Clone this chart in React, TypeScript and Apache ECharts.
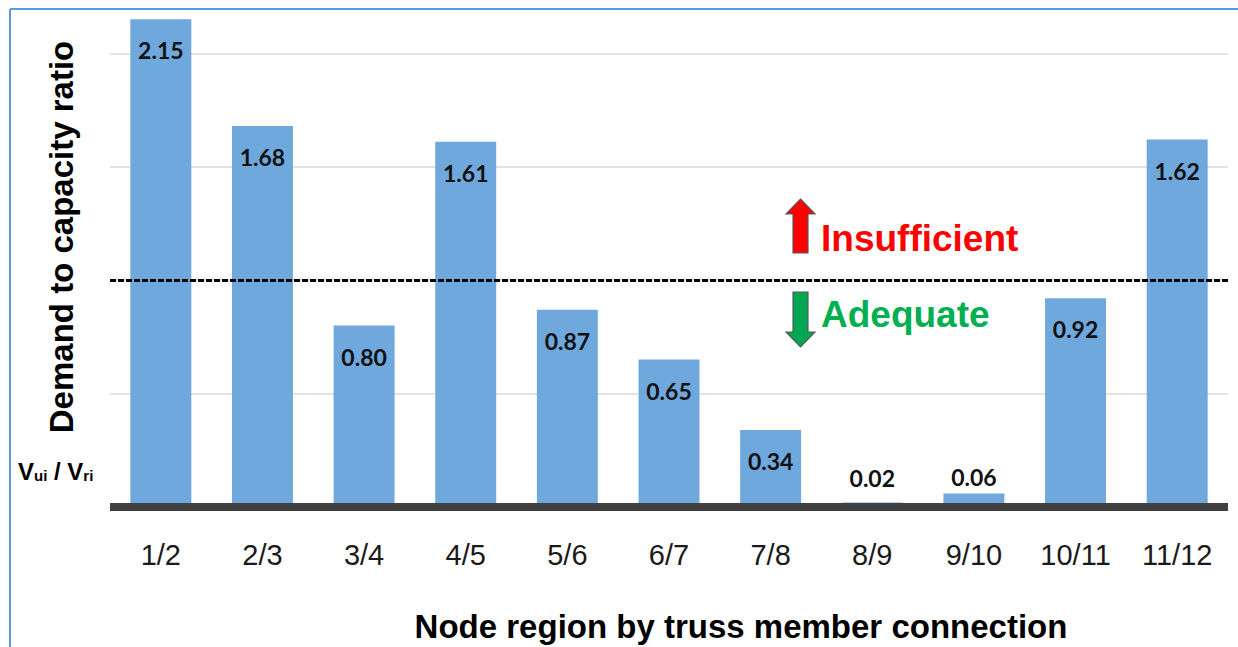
import React, { useEffect, useRef } from "react";
import * as echarts from "echarts";

const categories = ["1/2", "2/3", "3/4", "4/5", "5/6", "6/7", "7/8", "8/9", "9/10", "10/11", "11/12"];
const ratios = [2.15, 1.68, 0.8, 1.61, 0.87, 0.65, 0.34, 0.02, 0.06, 0.92, 1.62];
const thresholdValue = [1];
const yTitle = "Demand to capacity ratio";
const xTitle = "Node region by truss member connection";

export default function App() {
  const ref = useRef<HTMLDivElement>(null);

  useEffect(() => {
    if (!ref.current) return;
    const chart = echarts.init(ref.current, null, { renderer: "svg" });

    const barData = ratios.map((v) => {
      if (v < 0.2) {
        return {
          value: v,
          label: { position: "top", distance: Math.max(4, 16 - v * 190) },
        };
      }
      return v;
    });

    const shadow = {
      shadowColor: "rgba(0,0,0,0.35)",
      shadowBlur: 3,
      shadowOffsetX: 2,
      shadowOffsetY: 2,
    };

    const option: any = {
      animation: false,
      backgroundColor: "#ffffff",
      grid: { left: 110, right: 10, top: 8, bottom: 140, containLabel: false },
      xAxis: {
        type: "category",
        data: categories,
        z: 10,
        axisLine: { show: true, lineStyle: { color: "#404040", width: 8, cap: "butt" } },
        axisTick: { show: false },
        axisLabel: {
          margin: 33,
          fontSize: 29,
          fontFamily: "Liberation Sans",
          color: "#1a1a1a",
        },
      },
      yAxis: {
        type: "value",
        min: 0,
        max: 2.2,
        interval: 0.5,
        axisLine: { show: false },
        axisTick: { show: false },
        axisLabel: { show: false },
        splitLine: {
          show: true,
          showMaxLine: false,
          lineStyle: { color: "#d9d9d9", width: 1.5 },
        },
      },
      series: [
        {
          type: "bar",
          data: barData,
          barWidth: "60%",
          itemStyle: { color: "#6FA8DC" },
          label: {
            show: true,
            position: "insideTop",
            distance: 19,
            formatter: (p: any) => Number(p.value).toFixed(2),
            fontFamily: "Lato",
            fontWeight: "bold",
            fontSize: 23,
            lineHeight: 24,
            color: "#111111",
          },
          markLine: {
            silent: true,
            symbol: ["none", "none"],
            label: { show: false },
            lineStyle: { color: "#000000", type: [6, 2], width: 3 },
            data: thresholdValue.map((v) => ({ yAxis: v })),
          },
        },
      ],
      graphic: [
        {
          type: "line",
          shape: { x1: 10, y1: 9, x2: 10, y2: 647 },
          style: { stroke: "#5B9BD5", lineWidth: 2 },
          z: 20,
        },
        {
          type: "line",
          shape: { x1: 10, y1: 9, x2: 1238, y2: 9 },
          style: { stroke: "#5B9BD5", lineWidth: 2 },
          z: 20,
        },
        {
          type: "text",
          x: 61,
          y: 237,
          rotation: Math.PI / 2,
          style: {
            text: yTitle,
            fontSize: 33,
            fontWeight: "bold",
            fontFamily: "Liberation Sans",
            fill: "#000000",
            textAlign: "center",
            textVerticalAlign: "middle",
          },
          z: 20,
        },
        {
          type: "text",
          x: 741,
          y: 626,
          style: {
            text: xTitle,
            fontSize: 33,
            fontWeight: "bold",
            fontFamily: "Liberation Sans",
            fill: "#000000",
            textAlign: "center",
            textVerticalAlign: "middle",
          },
          z: 20,
        },
        {
          type: "text",
          x: 18,
          y: 471,
          style: {
            text: "{v|V}{s|ui}{v| / V}{s|ri}",
            fontFamily: "Liberation Sans",
            textVerticalAlign: "middle",
            fill: "#000",
            rich: {
              v: { fontSize: 24, fontWeight: "bold", lineHeight: 24, fontFamily: "Liberation Sans", fill: "#000" },
              s: { fontSize: 15, fontWeight: "bold", lineHeight: 12, verticalAlign: "bottom", fontFamily: "Liberation Sans", fill: "#000" },
            },
          },
          z: 20,
        },
        {
          type: "polygon",
          shape: {
            points: [
              [800.5, 199],
              [815, 214],
              [808, 214],
              [808, 253],
              [793, 253],
              [793, 214],
              [786, 214],
            ],
          },
          style: { fill: "#FF0000", stroke: "#595959", lineWidth: 1.2 },
          z: 20,
        },
        {
          type: "polygon",
          shape: {
            points: [
              [793, 292],
              [808, 292],
              [808, 332],
              [815, 332],
              [800.5, 347],
              [786, 332],
              [793, 332],
            ],
          },
          style: { fill: "#00A651", stroke: "#595959", lineWidth: 1.2 },
          z: 20,
        },
        {
          type: "text",
          x: 821,
          y: 238,
          style: {
            text: "Insufficient",
            fontSize: 37,
            fontWeight: "bold",
            fontFamily: "Liberation Sans",
            fill: "#FF0000",
            textAlign: "left",
            textVerticalAlign: "middle",
            ...shadow,
          },
          z: 20,
        },
        {
          type: "text",
          x: 821,
          y: 314,
          style: {
            text: "Adequate",
            fontSize: 37,
            fontWeight: "bold",
            fontFamily: "Liberation Sans",
            fill: "#00B050",
            textAlign: "left",
            textVerticalAlign: "middle",
            ...shadow,
          },
          z: 20,
        },
      ],
    };

    chart.setOption(option);
    return () => chart.dispose();
  }, []);

  return (
    <div
      ref={ref}
      style={{ position: "fixed", left: 0, top: 0, width: 1238, height: 647, background: "#fff" }}
    />
  );
}
